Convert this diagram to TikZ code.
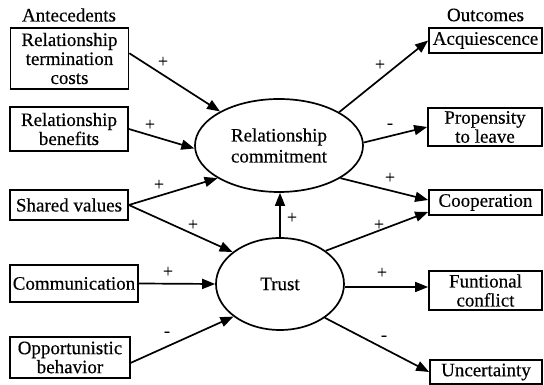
\documentclass[tikz,border=0pt]{standalone}
\usepackage{fontspec}
\setmainfont{Liberation Serif}[FakeBold=0.4]
\usetikzlibrary{shapes.geometric,arrows.meta}
\tikzset{
  box/.style={draw, line width=1.7pt, inner sep=0pt, align=center,
    font=\fontsize{19}{19}\selectfont},
  oval/.style={draw, ellipse, line width=1.7pt, inner sep=0pt, align=center,
    font=\fontsize{19}{21}\selectfont},
  title/.style={inner sep=0pt, font=\fontsize{19}{19}\selectfont},
  sign/.style={inner sep=0pt, font=\fontsize{18}{18}\selectfont},
  conn/.style={line width=1.7pt, -{Triangle[length=13pt,width=10pt]}}
}
\begin{document}
\begin{tikzpicture}[x=1pt,y=1pt]
\useasboundingbox (0,0) rectangle (544,385);
% titles
\node[title] (tA) at (69,370) {Antecedents};
\node[title] (tO) at (485.5,370) {Outcomes};
% antecedents
\node[box, minimum width=118pt, minimum height=61pt] (rtc) at (69.5,326.5) {Relationship\\termination\\costs};
\node[box, minimum width=118pt, minimum height=44pt] (rb) at (69,256) {Relationship\\benefits};
\node[box, minimum width=118pt, minimum height=30pt] (sv) at (69,180) {Shared values};
\node[box, minimum width=128pt, minimum height=37pt] (comm) at (74,101.5) {Communication};
\node[box, minimum width=120pt, minimum height=41pt] (ob) at (70,27.5) {Opportunistic\\behavior};
% mediators
\node[oval, minimum width=168pt, minimum height=93pt] (rc) at (279,239.5) {Relationship\\commitment};
\node[oval, minimum width=128pt, minimum height=92pt] (trust) at (280,101) {Trust};
% outcomes
\node[box, minimum width=113pt, minimum height=25pt] (acq) at (485.5,344.5) {Acquiescence};
\node[box, minimum width=114pt, minimum height=38pt] (pl) at (485,258) {Propensity\\to leave};
\node[box, minimum width=113pt, minimum height=25pt] (coop) at (485.5,182.5) {Cooperation};
\node[box, minimum width=113pt, minimum height=39pt] (fc) at (485.5,94.5) {Funtional\\conflict};
\node[box, minimum width=112pt, minimum height=24pt] (unc) at (486,13) {Uncertainty};
% connectors
\draw[conn] (rtc.5) -- (rc.150);
\draw[conn] (rb.east) -- (rc.182);
\draw[conn] (sv.east) -- (rc.208);
\draw[conn] (sv.east) -- (trust.146);
\draw[conn] (comm.east) -- (trust.west);
\draw[conn] (ob.-5) -- (trust.215);
\draw[conn] (trust.north) -- (trust.north |- rc.south);
\draw[conn] (rc.29) -- (acq.west);
\draw[conn] (rc.2) -- (pl.west);
\draw[conn] (rc.-28) -- ([yshift=2.5pt]coop.west);
\draw[conn] (trust.36) -- ([yshift=-9.5pt]coop.west);
\coordinate (fcin) at ([yshift=3.5pt]fc.west);
\draw[conn] (trust.east |- fcin) -- (fcin);
\draw[conn] (trust.-37) -- (unc.west);
% signs
\node[sign] (s1) at (163,323) {+};
\node[sign] (s2) at (150,260) {+};
\node[sign] (s3) at (159,200) {+};
\node[sign] (s4) at (193,160) {+};
\node[sign] (s5) at (168,113) {+};
\node[sign] (s6) at (167,51) {-};
\node[sign] (s7) at (292,167) {+};
\node[sign] (s8) at (380,320) {+};
\node[sign] (s9) at (390,259) {-};
\node[sign] (s10) at (390,207) {+};
\node[sign] (s11) at (379,160) {+};
\node[sign] (s12) at (382,112) {+};
\node[sign] (s13) at (384,47) {-};
\end{tikzpicture}
\end{document}
